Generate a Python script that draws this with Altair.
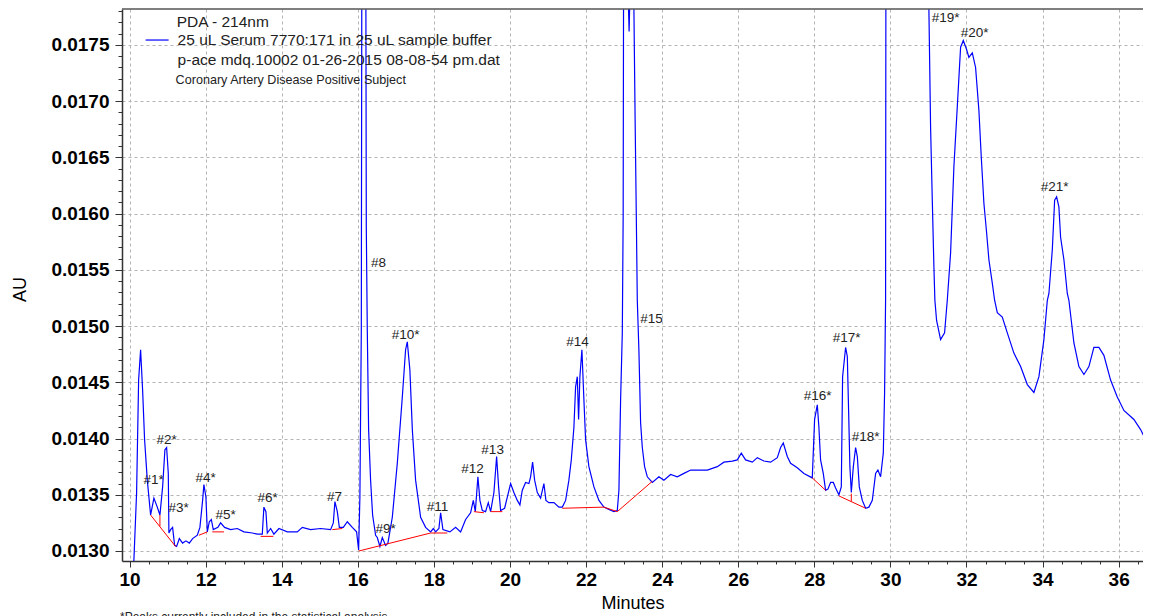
import altair as alt
import pandas as pd

# ---------------- data ----------------
time_min = [
    10.079, 10.113, 10.184, 10.237, 10.289, 10.342, 10.394, 10.465, 10.552, 10.639,
    10.728, 10.797, 10.868, 10.928, 10.973, 11.017, 11.033, 11.078, 11.130, 11.183,
    11.236, 11.307, 11.393, 11.480, 11.569, 11.656, 11.780, 11.848, 11.919, 11.953,
    12.006, 12.043, 12.095, 12.148, 12.200, 12.321, 12.392, 12.497, 12.655, 12.831,
    13.005, 13.226, 13.357, 13.488, 13.530, 13.583, 13.620, 13.707, 13.793, 13.925,
    14.146, 14.408, 14.540, 14.758, 15.021, 15.284, 15.355, 15.397, 15.460, 15.513,
    15.618, 15.723, 15.854, 15.967, 16.020, 16.054, 16.091, 16.112, 16.152, 16.200,
    16.222, 16.248, 16.283, 16.335, 16.388, 16.467, 16.511, 16.580, 16.643, 16.730,
    16.790, 16.906, 17.037, 17.169, 17.255, 17.300, 17.368, 17.432, 17.518, 17.650,
    17.781, 17.913, 17.984, 18.044, 18.131, 18.176, 18.236, 18.420, 18.570, 18.701,
    18.833, 18.964, 19.035, 19.088, 19.156, 19.209, 19.272, 19.358, 19.429, 19.490,
    19.577, 19.648, 19.700, 19.753, 19.858, 19.929, 20.016, 20.102, 20.192, 20.260,
    20.323, 20.410, 20.497, 20.541, 20.594, 20.647, 20.718, 20.804, 20.891, 20.944,
    21.023, 21.154, 21.286, 21.375, 21.462, 21.548, 21.611, 21.680, 21.724, 21.769,
    21.803, 21.837, 21.890, 21.943, 21.987, 22.074, 22.206, 22.337, 22.468, 22.600,
    22.731, 22.820, 22.863, 22.907, 22.952, 22.975, 22.985, 23.040, 23.131, 23.200,
    23.257, 23.289, 23.315, 23.346, 23.388, 23.433, 23.478, 23.538, 23.609, 23.741,
    23.914, 24.046, 24.222, 24.398, 24.572, 24.749, 24.924, 25.187, 25.450, 25.623,
    25.844, 25.975, 26.080, 26.193, 26.370, 26.501, 26.674, 26.851, 27.027, 27.113,
    27.184, 27.289, 27.376, 27.552, 27.726, 27.946, 28.007, 28.078, 28.120, 28.164,
    28.235, 28.296, 28.357, 28.428, 28.499, 28.559, 28.646, 28.709, 28.743, 28.822,
    28.867, 28.901, 28.935, 28.972, 29.025, 29.085, 29.130, 29.182, 29.261, 29.348,
    29.434, 29.524, 29.611, 29.671, 29.742, 29.813, 29.847, 29.873, 29.881, 30.000,
    30.400, 30.800, 30.950, 31.012, 31.056, 31.101, 31.143, 31.169, 31.214, 31.319,
    31.424, 31.495, 31.582, 31.669, 31.758, 31.845, 31.916, 32.003, 32.063, 32.153,
    32.239, 32.326, 32.389, 32.458, 32.529, 32.589, 32.679, 32.739, 32.810, 32.941,
    33.073, 33.246, 33.423, 33.599, 33.772, 33.904, 34.035, 34.125, 34.167, 34.256,
    34.317, 34.369, 34.429, 34.474, 34.561, 34.650, 34.692, 34.824, 34.955, 35.087,
    35.218, 35.349, 35.481, 35.612, 35.788, 35.964, 36.138, 36.401, 36.577, 36.709,
    36.840,
]

absorbance = [
    0.01279, 0.01292, 0.01352, 0.01452, 0.01479, 0.01443, 0.01399, 0.01363, 0.01332, 0.01347,
    0.01339, 0.01332, 0.01357, 0.01390, 0.01392, 0.01369, 0.01316, 0.01319, 0.01321, 0.01305,
    0.01304, 0.01311, 0.01307, 0.01309, 0.01307, 0.01311, 0.01314, 0.01321, 0.01345, 0.01359,
    0.01348, 0.01317, 0.01326, 0.01328, 0.01319, 0.01321, 0.01325, 0.01321, 0.01319, 0.01320,
    0.01317, 0.01316, 0.01315, 0.01315, 0.01339, 0.01335, 0.01316, 0.01320, 0.01315, 0.01320,
    0.01317, 0.01317, 0.01321, 0.01319, 0.01320, 0.01319, 0.01325, 0.01344, 0.01335, 0.01321,
    0.01321, 0.01326, 0.01321, 0.01317, 0.01301, 0.01348, 0.01497, 0.02000, 0.02300, 0.02000,
    0.01588, 0.01497, 0.01408, 0.01363, 0.01332, 0.01314, 0.01312, 0.01304, 0.01312, 0.01305,
    0.01307, 0.01330, 0.01378, 0.01437, 0.01479, 0.01486, 0.01461, 0.01408, 0.01363, 0.01330,
    0.01321, 0.01317, 0.01320, 0.01317, 0.01320, 0.01334, 0.01319, 0.01317, 0.01321, 0.01317,
    0.01328, 0.01334, 0.01345, 0.01335, 0.01366, 0.01345, 0.01336, 0.01335, 0.01343, 0.01335,
    0.01352, 0.01384, 0.01357, 0.01336, 0.01338, 0.01348, 0.01360, 0.01352, 0.01345, 0.01341,
    0.01354, 0.01361, 0.01360, 0.01366, 0.01379, 0.01363, 0.01352, 0.01347, 0.01360, 0.01345,
    0.01343, 0.01343, 0.01339, 0.01339, 0.01345, 0.01363, 0.01381, 0.01410, 0.01446, 0.01455,
    0.01417, 0.01455, 0.01479, 0.01434, 0.01399, 0.01375, 0.01357, 0.01345, 0.01339, 0.01337,
    0.01335, 0.01336, 0.01354, 0.01434, 0.01494, 0.01600, 0.01800, 0.01880, 0.01762, 0.01870,
    0.01783, 0.01683, 0.01612, 0.01523, 0.01479, 0.01414, 0.01392, 0.01375, 0.01366, 0.01361,
    0.01366, 0.01363, 0.01368, 0.01366, 0.01369, 0.01372, 0.01372, 0.01372, 0.01375, 0.01379,
    0.01380, 0.01381, 0.01387, 0.01381, 0.01379, 0.01383, 0.01380, 0.01379, 0.01383, 0.01392,
    0.01396, 0.01384, 0.01378, 0.01374, 0.01369, 0.01365, 0.01417, 0.01430, 0.01410, 0.01381,
    0.01369, 0.01354, 0.01355, 0.01361, 0.01361, 0.01356, 0.01350, 0.01357, 0.01455, 0.01481,
    0.01473, 0.01425, 0.01375, 0.01352, 0.01375, 0.01392, 0.01384, 0.01357, 0.01345, 0.01338,
    0.01339, 0.01345, 0.01369, 0.01372, 0.01366, 0.01387, 0.01441, 0.01523, 0.01800, 0.01950,
    0.02100, 0.01950, 0.01900, 0.01781, 0.01677, 0.01612, 0.01553, 0.01523, 0.01505, 0.01488,
    0.01494, 0.01523, 0.01565, 0.01642, 0.01695, 0.01748, 0.01754, 0.01746, 0.01739, 0.01743,
    0.01730, 0.01692, 0.01650, 0.01609, 0.01583, 0.01559, 0.01538, 0.01523, 0.01512, 0.01508,
    0.01494, 0.01476, 0.01464, 0.01448, 0.01441, 0.01455, 0.01488, 0.01523, 0.01529, 0.01568,
    0.01612, 0.01615, 0.01606, 0.01579, 0.01559, 0.01529, 0.01523, 0.01485, 0.01464, 0.01457,
    0.01464, 0.01481, 0.01481, 0.01474, 0.01452, 0.01437, 0.01425, 0.01417, 0.01408, 0.01399,
    0.01392,
]

# integration baselines (red)
bl_x1 = [10.552, 10.797, 11.822, 12.174, 13.444, 15.329, 16.028, 17.913, 19.051, 19.490,
         21.375, 22.468, 22.820, 27.946, 28.646, 28.972]
bl_y1 = [0.01332, 0.01332, 0.01314, 0.01317, 0.01313, 0.01319, 0.01300, 0.01316, 0.01335, 0.01335,
         0.01338, 0.01339, 0.01335, 0.01365, 0.01349, 0.01351]
bl_x2 = [11.209, 10.797, 12.043, 12.481, 13.778, 15.592, 17.913, 18.352, 19.314, 19.798,
         22.468, 22.820, 23.741, 28.296, 29.348, 28.972]
bl_y2 = [0.01304, 0.01322, 0.01317, 0.01317, 0.01313, 0.01320, 0.01316, 0.01316, 0.01334, 0.01335,
         0.01339, 0.01335, 0.01362, 0.01354, 0.01338, 0.01344]

# peak labels
peak_text = ["#1*", "#2*", "#3*", "#4*", "#5*", "#6*", "#7", "#8", "#9*", "#10*", "#11",
             "#12", "#13", "#14", "#15", "#16*", "#17*", "#18*", "#19*", "#20*", "#21*"]
peak_x = [10.631, 10.973, 11.288, 11.998, 12.524, 13.628, 15.389, 16.546, 16.730, 17.255, 18.097,
          19.017, 19.543, 21.777, 23.722, 28.086, 28.849, 29.348, 31.451, 32.213, 34.317]
peak_y = [0.01363, 0.01399, 0.01338, 0.01365, 0.01332, 0.01347, 0.01348, 0.01556, 0.01320, 0.01492, 0.01339,
          0.01373, 0.01390, 0.01486, 0.01506, 0.01438, 0.01489, 0.01401, 0.01774, 0.01761, 0.01624]

# legend block
legend_text = ["PDA - 214nm",
               "25 uL Serum 7770:171 in 25 uL sample buffer",
               "p-ace mdq.10002 01-26-2015 08-08-54 pm.dat"]
legend_tx = [11.236, 11.262, 11.262]
legend_ty = [0.017705, 0.017544, 0.017367]
subtitle_text = ["Coronary Artery Disease Positive Subject"]
subtitle_tx = [11.209]
subtitle_ty = [0.017189]
legend_line_x = [10.421]
legend_line_x2 = [11.025]
legend_line_y = [0.017544]

footnote = ["*Peaks currently included in the statistical analysis"]

x_ticks = [round(10 + 0.5 * i, 1) for i in range(54)]
y_ticks = [round(0.0129 + 0.0001 * i, 4) for i in range(50)]

PLOT_W = 1021
PLOT_H = 552
X_DOMAIN = [9.80, 36.64]
Y_DOMAIN = [0.012911, 0.01782]
FONT = "Liberation Sans"

# ---------------- chart ----------------
trace = pd.DataFrame({"t": time_min, "au": absorbance})
base_df = pd.DataFrame({"x1": bl_x1, "y1": bl_y1, "x2": bl_x2, "y2": bl_y2})
peak_df = pd.DataFrame({"label": peak_text, "t": peak_x, "au": peak_y})
leg_df = pd.DataFrame({"label": legend_text, "t": legend_tx, "au": legend_ty})
sub_df = pd.DataFrame({"label": subtitle_text, "t": subtitle_tx, "au": subtitle_ty})
legline_df = pd.DataFrame({"t": legend_line_x, "t2": legend_line_x2, "au": legend_line_y})
note_df = pd.DataFrame({"note": footnote})

x_major = "datum.value % 2 == 0"
y_major = "abs(datum.value * 2000 - round(datum.value * 2000)) < 0.01"

x_axis = alt.Axis(
    values=x_ticks, tickCount=400,
    labelExpr=f"{x_major} ? format(datum.value, 'd') : ''",
    tickSize={"condition": {"test": x_major, "value": 6}, "value": 3},
    grid=True,
    gridOpacity={"condition": {"test": x_major, "value": 1}, "value": 0},
    gridDash=[3, 3], gridColor="#b4b4b4", gridWidth=1,
    domainColor="#333333", domainWidth=1.5, tickColor="#333333", tickWidth=1,
    labelFont=FONT, labelFontSize=19, labelFontWeight="bold", labelColor="#000000",
    labelPadding=3, labelOverlap=False, labelFlush=False,
    title="Minutes", titleFont=FONT, titleFontSize=18, titleFontWeight="normal",
    titleColor="#000000", titlePadding=5,
)
y_axis = alt.Axis(
    values=y_ticks, tickCount=400,
    labelExpr=f"{y_major} ? format(datum.value, '.4f') : ''",
    tickSize={"condition": {"test": y_major, "value": 7}, "value": 4},
    grid=True,
    gridOpacity={"condition": {"test": y_major, "value": 1}, "value": 0},
    gridDash=[3, 3], gridColor="#b4b4b4", gridWidth=1,
    domainColor="#333333", domainWidth=1.5, tickColor="#333333", tickWidth=1,
    labelFont=FONT, labelFontSize=19, labelFontWeight="bold", labelColor="#000000",
    labelPadding=6, labelOverlap=False, labelFlush=False,
    title="AU", titleFont=FONT, titleFontSize=18, titleFontWeight="normal",
    titleColor="#000000", titleX=-102, titleY=280, titleAngle=270,
    titleAlign="center", titleBaseline="middle",
)

xs = alt.Scale(domain=X_DOMAIN, nice=False, zero=False)
ys = alt.Scale(domain=Y_DOMAIN, nice=False, zero=False)

line = alt.Chart(trace).mark_line(color="#0000ff", strokeWidth=1.2, clip=True).encode(
    x=alt.X("t:Q", scale=xs, axis=x_axis),
    y=alt.Y("au:Q", scale=ys, axis=y_axis),
)

baselines = alt.Chart(base_df).mark_rule(color="#ff0000", strokeWidth=1, clip=True).encode(
    x="x1:Q", y="y1:Q", x2="x2:Q", y2="y2:Q",
)

peaks = alt.Chart(peak_df).mark_text(
    font=FONT, fontSize=13.5, color="#222222", align="center", baseline="middle"
).encode(x="t:Q", y="au:Q", text="label:N")

legend_line = alt.Chart(legline_df).mark_rule(color="#0000ff", strokeWidth=1.2).encode(
    x="t:Q", x2="t2:Q", y="au:Q",
)
legend_txt = alt.Chart(leg_df).mark_text(
    font=FONT, fontSize=15.5, color="#222222", align="left", baseline="middle"
).encode(x="t:Q", y="au:Q", text="label:N")
sub_txt = alt.Chart(sub_df).mark_text(
    font=FONT, fontSize=12.6, color="#222222", align="left", baseline="middle"
).encode(x="t:Q", y="au:Q", text="label:N")

top_border = alt.Chart(note_df).mark_rule(color="#555555", strokeWidth=1.5).encode(
    x=alt.value(0), x2=alt.value(PLOT_W), y=alt.value(0),
)
note = alt.Chart(note_df).mark_text(
    font=FONT, fontSize=12, color="#222222", align="left", baseline="middle"
).encode(x=alt.value(-2), y=alt.value(PLOT_H + 56), text="note:N")

chart = alt.layer(
    line, baselines, peaks, legend_line, legend_txt, sub_txt, top_border, note
).properties(
    width=PLOT_W, height=PLOT_H,
    autosize=alt.AutoSizeParams(type="none"),
    padding={"left": 114, "top": 1, "right": 0, "bottom": 62},
).configure_view(stroke=None)

chart.save("out.html", embed_options={"renderer": "svg", "actions": False})
